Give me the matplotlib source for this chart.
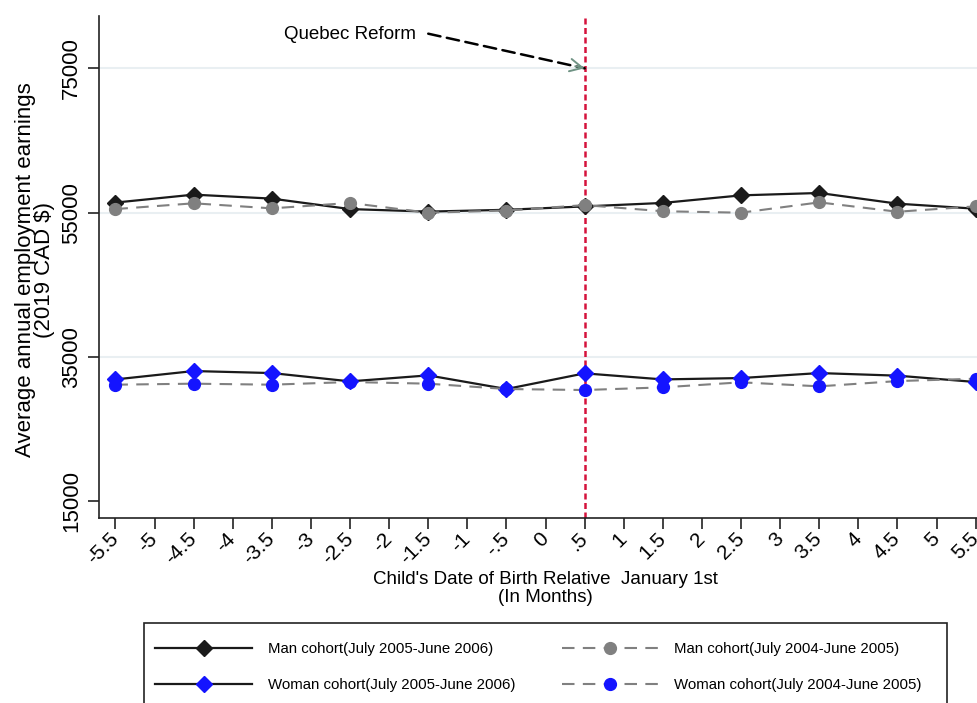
"""Annual employment earnings by child's birth month, Quebec reform cohorts."""

import matplotlib
matplotlib.use("Agg")
import matplotlib.pyplot as plt
from matplotlib.patches import Rectangle

# months relative to January 1st (bin centres)
months = [-5.5, -4.5, -3.5, -2.5, -1.5, -0.5, 0.5, 1.5, 2.5, 3.5, 4.5, 5.5]

man_2005 = [56400, 57500, 56950, 55500, 55150, 55400, 55870, 56350, 57400, 57730, 56250, 55550]
man_2004 = [55500, 56300, 55600, 56350, 55000, 55300, 56050, 55200, 55000, 56430, 55130, 55880]
woman_2005 = [31900, 33060, 32780, 31630, 32460, 30570, 32740, 31900, 32090, 32780, 32420, 31540]
woman_2004 = [31170, 31310, 31170, 31540, 31310, 30570, 30430, 30800, 31500, 30940, 31670, 32000]

x_ticks = [-5.5, -5, -4.5, -4, -3.5, -3, -2.5, -2, -1.5, -1, -0.5, 0,
           0.5, 1, 1.5, 2, 2.5, 3, 3.5, 4, 4.5, 5, 5.5]
x_tick_labels = ["-5.5", "-5", "-4.5", "-4", "-3.5", "-3", "-2.5", "-2", "-1.5", "-1",
                 "-.5", "0", ".5", "1", "1.5", "2", "2.5", "3", "3.5", "4", "4.5", "5", "5.5"]
y_ticks = [15000, 35000, 55000, 75000]
grid_levels = [35000, 55000, 75000]

reform_month = 0.5
reform_label = "Quebec Reform"

labels = [
    "Man cohort(July 2005-June 2006)",
    "Man cohort(July 2004-June 2005)",
    "Woman cohort(July 2005-June 2006)",
    "Woman cohort(July 2004-June 2005)",
]

BLACK = "#1a1a1a"
GREY = "#808080"
BLUE = "#1414ff"
RED = "#d5123c"
GRID = "#e9eff2"

plt.rcParams["font.family"] = ["Liberation Sans", "DejaVu Sans"]

W, H = 978, 703
fig = plt.figure(figsize=(W / 100, H / 100), dpi=100)
left_px, bottom_px, top_px = 99, 518, 16
ax = fig.add_axes([left_px / W, 1 - bottom_px / H, 1 - left_px / W, (bottom_px - top_px) / H])

for level in grid_levels:
    ax.axhline(level, color=GRID, lw=1.5, zorder=0.5)

ax.axvline(reform_month, color=RED, lw=1.8, linestyle=(0, (2.4, 1.4)), zorder=1.5)

solid = dict(lw=1.6, linestyle="-", color=BLACK, zorder=3)
dashed = dict(lw=1.5, linestyle=(0, (6, 4)), color=GREY, zorder=4)

h_man05, = ax.plot(months, man_2005, marker="D", ms=8.5, mfc=BLACK, mec=BLACK, **solid)
h_man04, = ax.plot(months, man_2004, marker="o", ms=8.5, mfc=GREY, mec=GREY, **dashed)
h_wom05, = ax.plot(months, woman_2005, marker="D", ms=8.5, mfc=BLUE, mec=BLUE, **solid)
h_wom04, = ax.plot(months, woman_2004, marker="o", ms=8.5, mfc=BLUE, mec=BLUE, **dashed)

# annotation: dashed black shaft plus open grey-green head at the reform line
ax.text(-2.5, 79750, reform_label, ha="center", va="center", fontsize=13.5)
ax.annotate("", xy=(reform_month, 75000), xytext=(-1.5, 79800),
            arrowprops=dict(arrowstyle="-", color="black", lw=1.8,
                            linestyle=(0, (5, 2.6)), shrinkA=0, shrinkB=0))
ax.annotate("", xy=(reform_month, 75000), xytext=(reform_month - 0.12, 75290),
            arrowprops=dict(arrowstyle="->,head_length=0.9,head_width=0.45",
                            color="#6f9384", lw=1.4, shrinkA=0, shrinkB=0))

ax.set_xlim(-5.71, 5.53)
ax.set_ylim(12700, 82250)

ax.set_xticks(x_ticks)
ax.set_xticklabels(x_tick_labels, fontsize=15, rotation=45, ha="right", va="center",
                   rotation_mode="anchor")
ax.set_yticks(y_ticks)
ax.set_yticklabels([str(v) for v in y_ticks], fontsize=16, rotation=90, va="center")
ax.tick_params(axis="x", length=8, width=1.2, pad=4.8, color="#222222")
ax.tick_params(axis="y", length=8, width=1.2, pad=4, color="#222222")

for side in ("top", "right"):
    ax.spines[side].set_visible(False)
for side in ("left", "bottom"):
    ax.spines[side].set_color("#222222")
    ax.spines[side].set_linewidth(1.2)

ax.set_ylabel("Average annual employment earnings\n(2019 CAD $)", fontsize=16,
              linespacing=0.85)
ax.yaxis.set_label_coords((55 - left_px) / (W - left_px), 0.494)
ax.set_xlabel("Child's Date of Birth Relative  January 1st\n(In Months)", fontsize=13.5,
              linespacing=1.05)
ax.xaxis.set_label_coords((545.5 - left_px) / (W - left_px), (bottom_px - 571) / (bottom_px - top_px))

# legend box runs past the bottom edge of the figure
fig.patches.append(Rectangle((144 / W, 1 - 712 / H), (947 - 144) / W, (712 - 623) / H,
                             transform=fig.transFigure, fill=False, ec="#222222", lw=1.2))
fig.legend([h_man05, h_wom05, h_man04, h_wom04],
           [labels[0], labels[2], labels[1], labels[3]],
           ncol=2, frameon=False, loc="upper left",
           bbox_to_anchor=(155 / W, 1 - 642 / H),
           borderaxespad=0, borderpad=0,
           prop={"size": 10.8},
           handlelength=6.5, handletextpad=1.0, columnspacing=3.1,
           labelspacing=1.45, numpoints=1)

fig.savefig("out.png", dpi=100, facecolor="white")
